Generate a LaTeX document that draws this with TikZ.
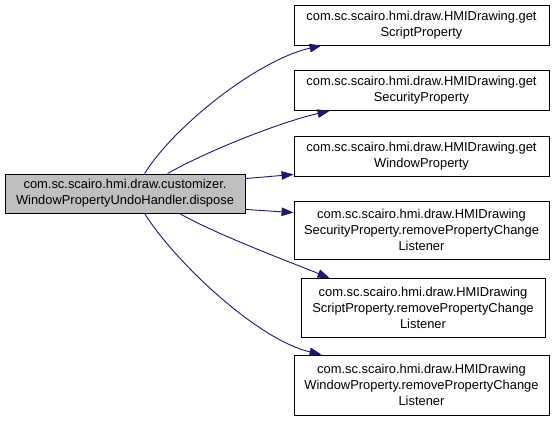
\documentclass[tikz,border=0pt]{standalone}
\usepackage{fontspec}
\setmainfont{Liberation Sans}
\usetikzlibrary{arrows.meta}
\definecolor{edgeblue}{HTML}{191970}
\definecolor{boxgray}{HTML}{BFBFBF}
\begin{document}
\begin{tikzpicture}[x=1pt,y=-1pt,
  box/.style={draw=black,line width=0.9pt,fill=white,align=center,inner sep=0pt,
    font=\fontsize{12.9}{16}\selectfont,minimum width=255pt},
  conn/.style={draw=edgeblue,line width=0.9pt,-{Triangle[length=12pt,width=8.5pt]},color=edgeblue}]
\useasboundingbox (0,0) rectangle (556,423);
\node[box,fill=boxgray,minimum width=240pt,minimum height=39pt] (L) at (125,193.5)
  {com.sc.scairo.hmi.draw.customizer.\\WindowPropertyUndoHandler.dispose};
\node[box,minimum height=40pt] (B1) at (421.5,25)
  {com.sc.scairo.hmi.draw.HMIDrawing.get\\ScriptProperty};
\node[box,minimum height=40pt] (B2) at (421.5,90.5)
  {com.sc.scairo.hmi.draw.HMIDrawing.get\\SecurityProperty};
\node[box,minimum height=40pt] (B3) at (421.5,156)
  {com.sc.scairo.hmi.draw.HMIDrawing.get\\WindowProperty};
\node[box,minimum height=58pt] (B4) at (421.5,230)
  {com.sc.scairo.hmi.draw.HMIDrawing\\SecurityProperty.removePropertyChange\\Listener};
\node[box,minimum width=244pt,minimum height=59pt] (B5) at (423,308)
  {com.sc.scairo.hmi.draw.HMIDrawing\\ScriptProperty.removePropertyChange\\Listener};
\node[box,minimum height=60pt] (B6) at (421.5,385)
  {com.sc.scairo.hmi.draw.HMIDrawing\\WindowProperty.removePropertyChange\\Listener};
\draw[conn] ([xshift=140pt]L.north west) .. controls (175,125) and (258,60) .. ([xshift=28pt]B1.south west);
\draw[conn] ([xshift=163pt]L.north west) .. controls (205,152) and (280,122) .. ([xshift=36pt]B2.south west);
\draw[conn] ([yshift=-5pt]L.north east) -- ([yshift=2pt]B3.south west);
\draw[conn] ([yshift=4pt]L.south east) -- ([yshift=-12pt]B4.north west);
\draw[conn] ([xshift=175pt]L.south west) .. controls (215,234) and (290,262) .. ([xshift=29pt]B5.north west);
\draw[conn] ([xshift=140pt]L.south west) .. controls (175,262) and (258,340) .. ([xshift=28pt]B6.north west);
\end{tikzpicture}
\end{document}
